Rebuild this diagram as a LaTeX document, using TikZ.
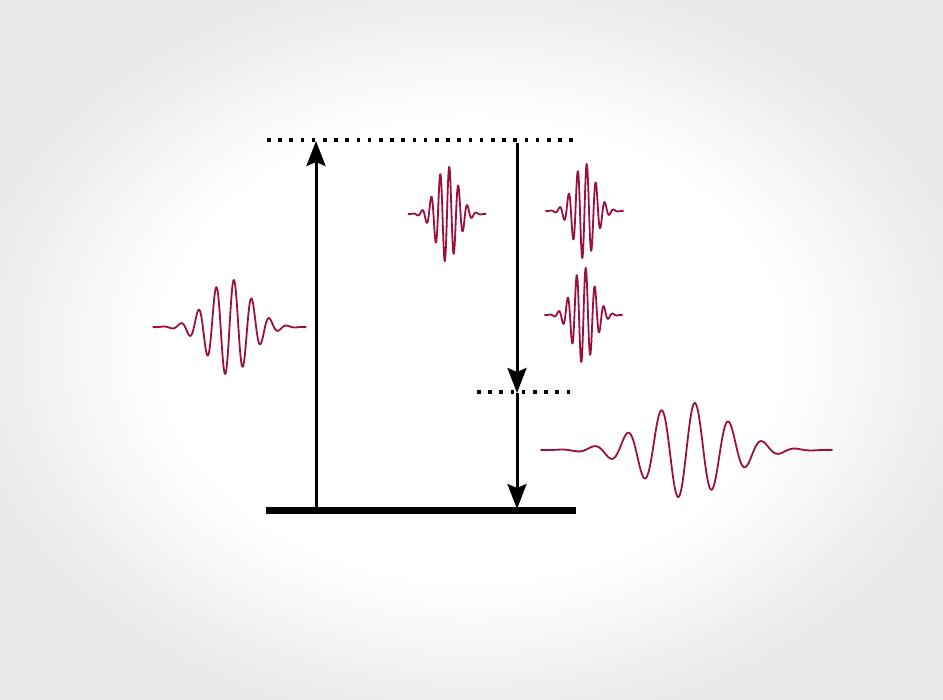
\documentclass[tikz,border=0pt]{standalone}
\usetikzlibrary{arrows.meta}
\definecolor{wave}{RGB}{155,17,62}
\definecolor{bgM}{RGB}{246,246,246}
\definecolor{bgA}{RGB}{237,237,237}
\definecolor{bgB}{RGB}{232,232,232}
\pgfdeclareradialshading{bgshade}{\pgfpoint{0bp}{0bp}}{color(0bp)=(white); color(33bp)=(white); color(42bp)=(bgM); color(50bp)=(bgA); color(57bp)=(bgB); color(75bp)=(bgB)}
\newcommand\wavepk[4]{%
  \coordinate (#1) at (#2,#3);
  \draw[wavestyle] plot[domain=-146:146, samples=500, smooth]
    ({#2+#4*\x}, {#3-48*exp(-0.5*(\x/41)*(\x/41))*sin(10.6667*\x)});}
\begin{document}
\begin{tikzpicture}[x=1pt,y=-1pt,
  wavestyle/.style={draw=wave, line width=1.8pt, line join=round},
  dotline/.style={line width=3.6pt, dash pattern=on 3.6pt off 7.6pt},
  groundline/.style={line width=7pt},
  transarrow/.style={line width=3pt, -{Stealth[length=25pt,width=19pt,inset=4pt]}}]
\fill[bgB] (0,0) rectangle (943,700);
\begin{scope}
  \clip (0,0) rectangle (943,700);
  \begin{scope}[shift={(471.5,350)}, xscale=9.384, yscale=6.974]
    \pgflowlevelsynccm\pgfuseshading{bgshade}
  \end{scope}
\end{scope}
\useasboundingbox (0,0) rectangle (943,700);
% levels
\coordinate (topL) at (267,140); \coordinate (topR) at (577,140);
\coordinate (midL) at (477,392); \coordinate (midR) at (577,392);
\coordinate (gndL) at (266,511); \coordinate (gndR) at (576,511);
\draw[dotline] (topL) -- (topR);
\draw[dotline] (midL) -- (midR);
\draw[groundline] (gndL) -- (gndR);
% transitions
\coordinate (upS) at (316,511); \coordinate (upE) at (316,141);
\coordinate (dnS) at (517,143); \coordinate (dnM) at (517,393); \coordinate (dnE) at (517,509);
\draw[transarrow] (upS) -- (upE);
\draw[transarrow] (dnS) -- (dnM);
\draw[transarrow] (dnM) -- (dnE);
% wave packets
\wavepk{w1}{229.5}{327}{0.526}
\wavepk{w2}{447}{214}{0.268}
\wavepk{w3}{584.5}{211}{0.268}
\wavepk{w4}{583.5}{315}{0.268}
\wavepk{w5}{686.5}{450}{1}
\end{tikzpicture}
\end{document}
